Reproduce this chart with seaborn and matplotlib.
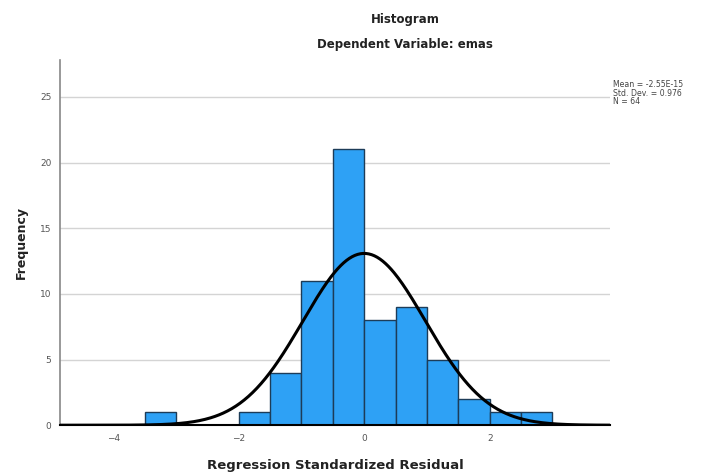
import numpy as np
import pandas as pd
import seaborn as sns
import matplotlib.pyplot as plt

# histogram bins (width 0.5)
bin_edges = [-3.5, -3.0, -2.5, -2.0, -1.5, -1.0, -0.5, 0.0, 0.5, 1.0, 1.5, 2.0, 2.5, 3.0]
counts = [1, 0, 0, 1, 4, 11, 21, 8, 9, 5, 2, 1, 1]

# fitted normal stats shown in the legend box
mean_val = -2.55e-15
std_val = 0.976
n_val = 64

x_ticks = [-4, -2, 0, 2]
y_ticks = [0, 5, 10, 15, 20, 25]

centers = [(a + b) / 2 for a, b in zip(bin_edges[:-1], bin_edges[1:])]
df = pd.DataFrame({"resid": centers, "count": counts})

sns.set_style("white")
plt.rcParams["font.family"] = ["DejaVu Sans"]

fig = plt.figure(figsize=(7.12, 4.73), dpi=100)
ax = fig.add_axes([0.084, 0.101, 0.773, 0.772])

for y in y_ticks[1:]:
    ax.axhline(y, color="#d4d4d4", lw=1.0, zorder=0)

sns.histplot(data=df, x="resid", weights="count", bins=bin_edges,
             color="#2ea1f5", edgecolor="#1d3c58", linewidth=1.0,
             alpha=1.0, ax=ax, zorder=2)

# normal curve scaled to counts
bw = bin_edges[1] - bin_edges[0]
xs = np.linspace(-4.9, 4.0, 400)
ys = n_val * bw / (std_val * np.sqrt(2 * np.pi)) * np.exp(-0.5 * ((xs - mean_val) / std_val) ** 2)
sns.lineplot(x=xs, y=ys, color="black", lw=2.2, ax=ax, zorder=3)

ax.set_xlim(-4.85, 3.92)
ax.set_ylim(0, 27.8)
ax.set_xticks(x_ticks)
ax.set_yticks(y_ticks)
ax.tick_params(axis="both", labelsize=6.5, labelcolor="#555555", length=0, pad=6)

for s in ["top", "right"]:
    ax.spines[s].set_visible(False)
ax.spines["left"].set_color("#888888")
ax.spines["left"].set_linewidth(1.2)
ax.spines["bottom"].set_color("black")
ax.spines["bottom"].set_linewidth(1.5)

ax.set_xlabel("Regression Standardized Residual", fontsize=9.5, fontweight="bold",
              color="#222222", labelpad=12)
ax.set_ylabel("Frequency", fontsize=9, fontweight="bold", color="#222222", labelpad=9)

fig.text(0.569, 0.958, "Histogram", ha="center", va="center",
         fontsize=8.5, fontweight="bold", color="#222222")
fig.text(0.569, 0.905, "Dependent Variable: emas", ha="center", va="center",
         fontsize=8.5, fontweight="bold", color="#222222")

fig.text(0.861, 0.803, f"Mean = {mean_val:.2E}\nStd. Dev. = {std_val}\nN = {n_val}",
         ha="left", va="center", fontsize=5.6, color="#444444", linespacing=0.9)

fig.savefig("out.png", dpi=100)
